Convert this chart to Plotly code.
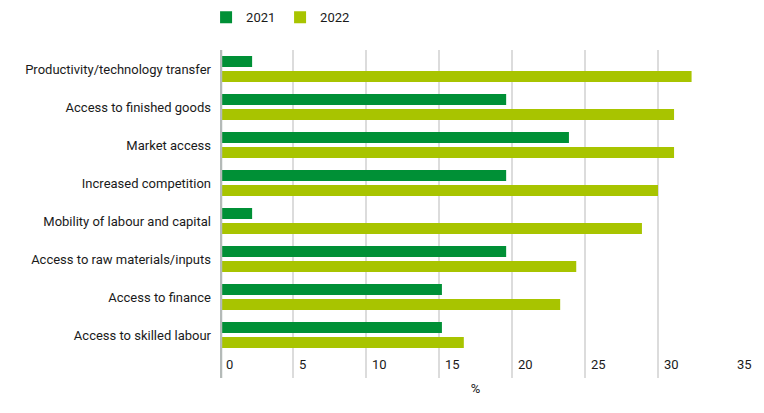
import plotly.graph_objects as go

categories = [
    "Productivity/technology transfer",
    "Access to finished goods",
    "Market access",
    "Increased competition",
    "Mobility of labour and capital",
    "Access to raw materials/inputs",
    "Access to finance",
    "Access to skilled labour",
]
values_2021 = [2.2, 19.6, 23.9, 19.6, 2.2, 19.6, 15.2, 15.2]
values_2022 = [32.3, 31.1, 31.1, 30.0, 28.9, 24.4, 23.3, 16.7]
x_ticks = [0, 5, 10, 15, 20, 25, 30, 35]

green_dark = "#009036"
green_light = "#a8c400"
font_name = "Roboto"

fig = go.Figure()
fig.add_trace(go.Bar(y=categories, x=values_2021, name="2021", orientation="h",
                     marker=dict(color=green_dark, line=dict(width=0))))
fig.add_trace(go.Bar(y=categories, x=values_2022, name="2022", orientation="h",
                     marker=dict(color=green_light, line=dict(width=0))))

# page body has an 8px margin, so the figure is a bit smaller than the window
fig.update_layout(
    width=756, height=405,
    margin=dict(l=212, r=33, t=42, b=35, autoexpand=False),
    paper_bgcolor="white", plot_bgcolor="white",
    font=dict(family=font_name, size=13, color="#1a1a1a"),
    barmode="group", bargap=0.21, bargroupgap=0.27,
    legend=dict(orientation="h", xref="container", yref="container",
                x=0.262, y=0.977, xanchor="left", yanchor="middle",
                entrywidth=29, entrywidthmode="pixels",
                font=dict(size=13)),
    xaxis=dict(range=[0, 35], tickvals=x_ticks, showgrid=True,
               gridcolor="#dcdcdc", gridwidth=1.5,
               ticklabelposition="inside right", ticklabeloverflow="allow",
               ticklabelshift=6, tickfont=dict(color="#1a1a1a"),
               zeroline=False, showline=False, ticks="",
               title=dict(text="%", standoff=12, font=dict(size=13))),
    yaxis=dict(range=[8.13, -0.5], showgrid=False, zeroline=False,
               showline=False, ticks="", ticklabelstandoff=8,
               tickfont=dict(color="#1a1a1a")),
)
# grey baseline at x = 0
fig.add_shape(type="line", xref="x", yref="paper", x0=0, x1=0, y0=0, y1=1,
              line=dict(color="#b4bab8", width=4.5), layer="above")

fig.write_html("out.html")
